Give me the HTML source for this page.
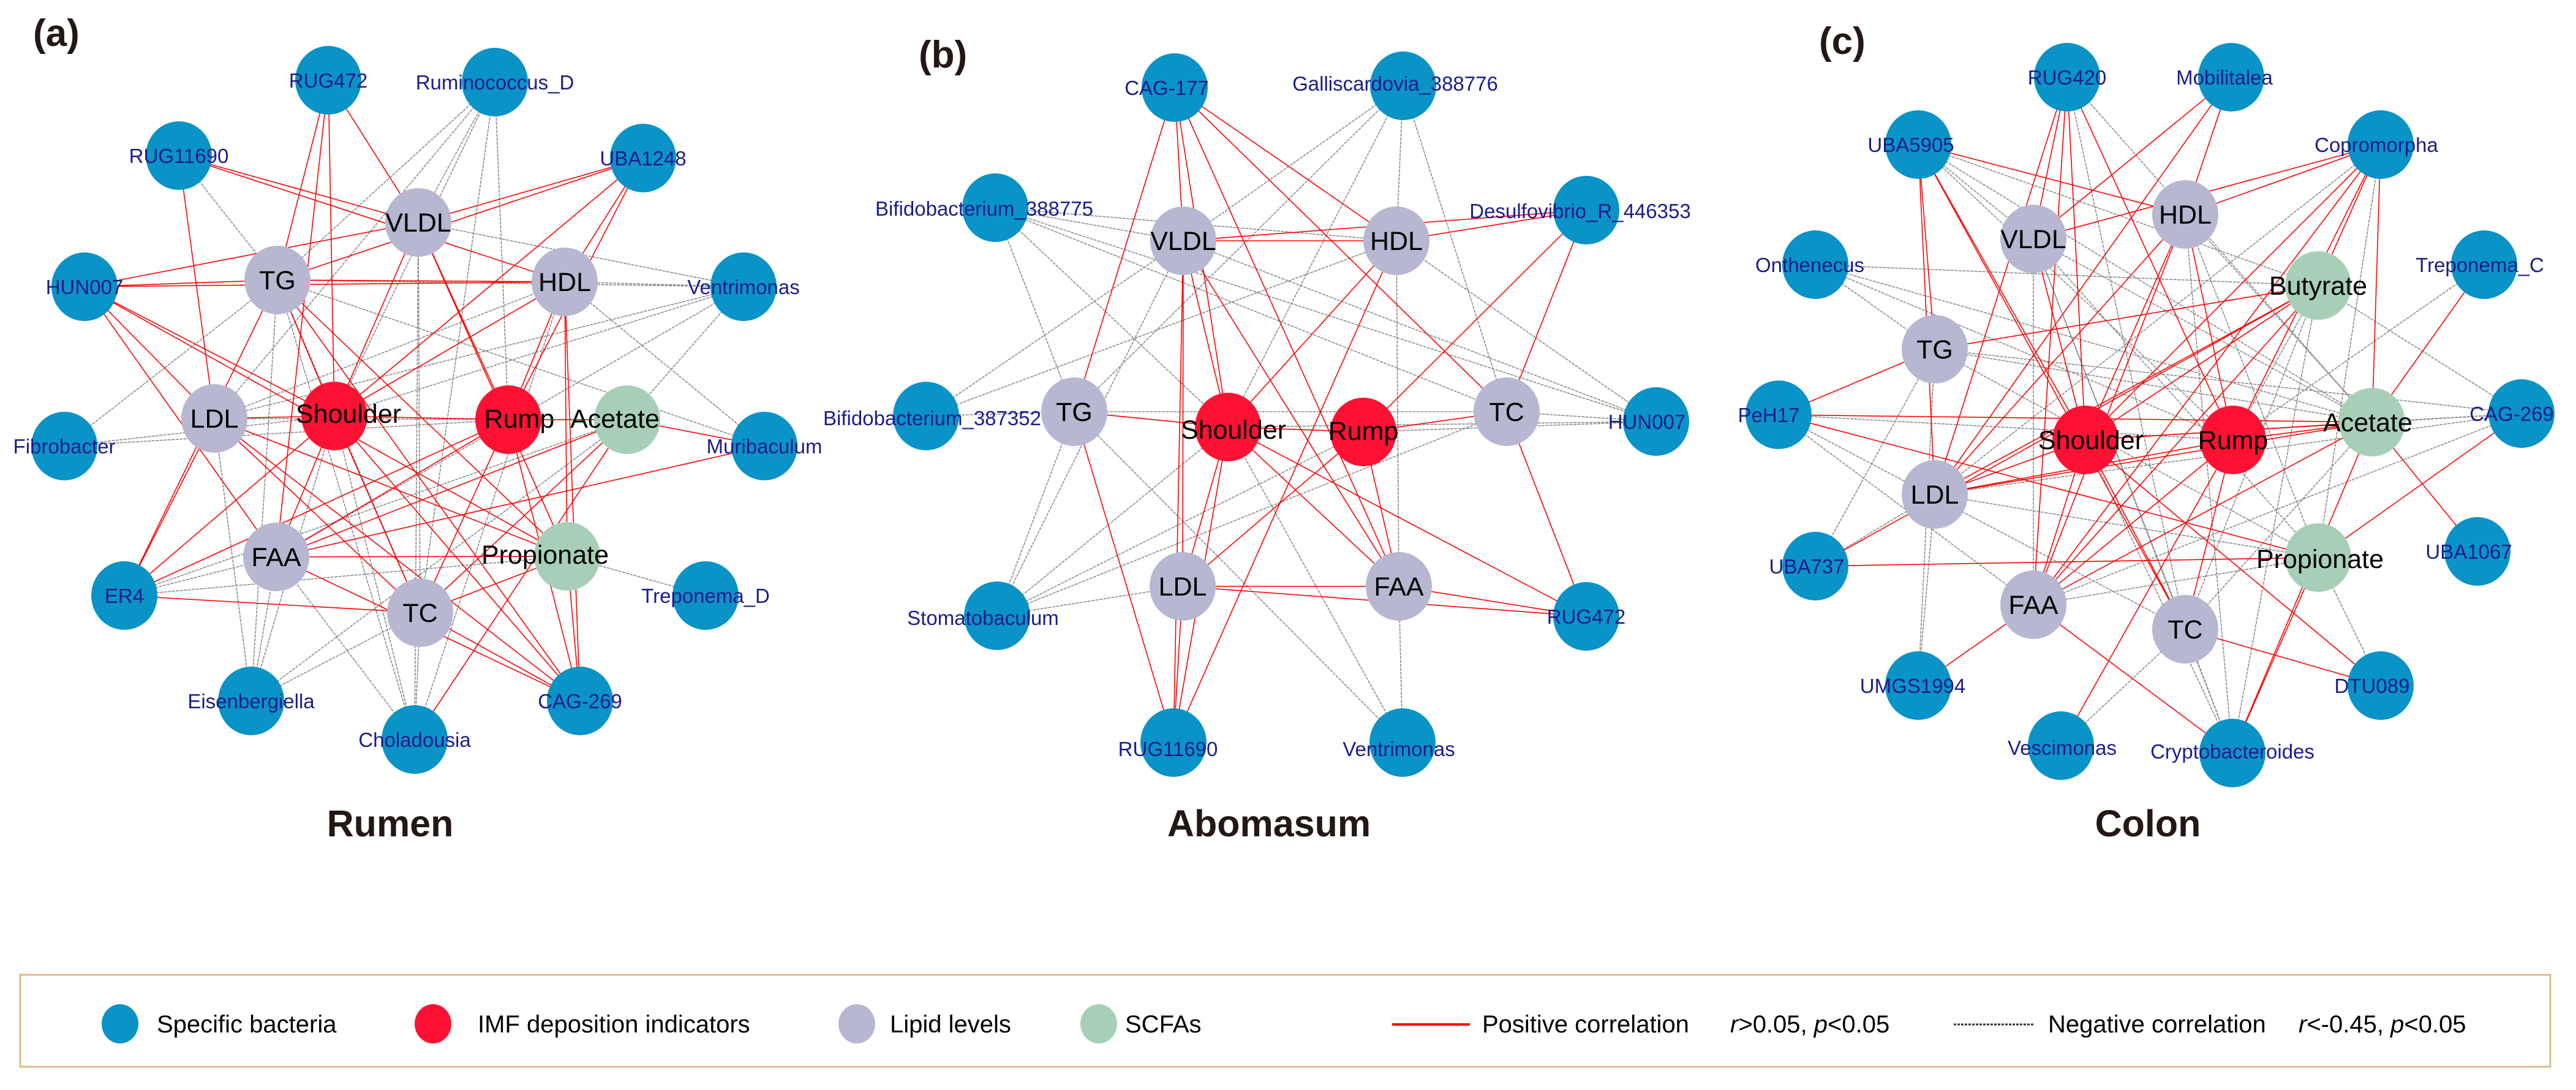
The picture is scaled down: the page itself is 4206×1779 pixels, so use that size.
<!DOCTYPE html>
<html><head><meta charset="utf-8"><style>
html,body{margin:0;padding:0;background:#fff;}
svg{display:block;}
</style></head><body>
<svg id="s" width="4206" height="1779" viewBox="0 0 4206 1779" xmlns="http://www.w3.org/2000/svg" font-family="Liberation Sans, Arial, sans-serif">
<g id="edges"></g><g id="nodes"></g>
<g font-weight="bold" fill="#231815">
<text x="54" y="75" font-size="62">(a)</text>
<text x="1500" y="110" font-size="62">(b)</text>
<text x="2970" y="88" font-size="62">(c)</text>
<text x="637" y="1365" font-size="61" text-anchor="middle">Rumen</text>
<text x="2072" y="1365" font-size="61" text-anchor="middle">Abomasum</text>
<text x="3507" y="1365" font-size="61" text-anchor="middle">Colon</text>
</g>
<rect x="33" y="1591" width="4131" height="150" fill="#fff" stroke="#e0b98a" stroke-width="3"/>
<g font-size="40" fill="#000">
<ellipse cx="196" cy="1671" rx="30" ry="32" fill="#0a93c6"/><text x="256" y="1685">Specific bacteria</text>
<ellipse cx="707" cy="1671" rx="30" ry="32" fill="#ff1133"/><text x="780" y="1685">IMF deposition indicators</text>
<ellipse cx="1399" cy="1671" rx="30" ry="32" fill="#b7b7d1"/><text x="1453" y="1685">Lipid levels</text>
<ellipse cx="1794" cy="1671" rx="30" ry="32" fill="#a7cfb8"/><text x="1837" y="1685">SCFAs</text>
<line x1="2273" y1="1672" x2="2400" y2="1672" stroke="#f00" stroke-width="4"/>
<text x="2420" y="1685">Positive correlation</text><text x="2825" y="1685"><tspan font-style="italic">r</tspan>&gt;0.05, <tspan font-style="italic">p</tspan>&lt;0.05</text>
<line x1="3190" y1="1672" x2="3320" y2="1672" stroke="#333" stroke-width="3" stroke-dasharray="4,2"/>
<text x="3344" y="1685">Negative correlation</text><text x="3753" y="1685"><tspan font-style="italic">r</tspan>&lt;-0.45, <tspan font-style="italic">p</tspan>&lt;0.05</text>
</g>
</svg>
<script>
const B="#0a93c6",R="#ff1133",L="#b7b7d1",G="#a7cfb8";
const panels=[
{n:{
RUG472:[536,131,B],Ruminococcus_D:[808,134,B],RUG11690:[292,254,B],UBA1248:[1050,258,B],HUN007:[138,468,B],Ventrimonas:[1214,468,B],Fibrobacter:[105,728,B],Muribaculum:[1248,728,B],ER4:[203,972,B],Treponema_D:[1152,972,B],Eisenbergiella:[410,1144,B],"CAG-269":[947,1144,B],Choladousia:[677,1207,B],
VLDL:[683,363,L],TG:[453,457,L],HDL:[922,460,L],LDL:[350,683,L],FAA:[451,909,L],TC:[686,1000,L],
Shoulder:[546,679,R],Rump:[830,685,R],Acetate:[1024,685,G],Propionate:[926,908,G]},
lab:{Ruminococcus_D:[808,134],Ventrimonas:[1214,468],Treponema_D:[1152,972],Eisenbergiella:[410,1144],Choladousia:[677,1207],Fibrobacter:[105,728],Muribaculum:[1248,728],"Shoulder":[569,675],"Rump":[848,683],"Acetate":[1004,683],"Propionate":[890,905]},
r:"RUG472-VLDL RUG472-TG RUG472-Shoulder RUG472-FAA RUG11690-VLDL RUG11690-HDL RUG11690-LDL UBA1248-VLDL UBA1248-TG UBA1248-HDL UBA1248-Shoulder UBA1248-Rump HUN007-VLDL HUN007-TG HUN007-HDL HUN007-LDL HUN007-Shoulder HUN007-Propionate HUN007-FAA Muribaculum-Acetate Muribaculum-FAA ER4-LDL ER4-TG ER4-Shoulder ER4-Rump ER4-TC CAG-269-Shoulder CAG-269-Rump CAG-269-TG CAG-269-FAA CAG-269-TC CAG-269-HDL CAG-269-Propionate CAG-269-LDL Choladousia-Acetate Shoulder-Rump Rump-Acetate FAA-Propionate TG-HDL VLDL-Rump VLDL-Shoulder TG-Shoulder LDL-Shoulder FAA-Shoulder TC-Shoulder TC-Rump HDL-Rump HDL-Shoulder LDL-Propionate TG-Propionate FAA-Rump FAA-Acetate TC-Acetate TC-Propionate VLDL-Propionate HDL-Propionate LDL-TC",
g:"Ruminococcus_D-TG Ruminococcus_D-VLDL Ruminococcus_D-LDL Ruminococcus_D-Rump Ruminococcus_D-TC Ruminococcus_D-Shoulder RUG11690-TG Ventrimonas-VLDL Ventrimonas-TG Ventrimonas-HDL Ventrimonas-LDL Ventrimonas-FAA Ventrimonas-Shoulder Ventrimonas-Acetate Fibrobacter-TG Fibrobacter-Shoulder Fibrobacter-Rump Muribaculum-TG Muribaculum-HDL ER4-FAA ER4-Acetate ER4-Propionate Treponema_D-Propionate Eisenbergiella-LDL Eisenbergiella-TG Eisenbergiella-FAA Eisenbergiella-Shoulder Eisenbergiella-TC Eisenbergiella-Acetate Choladousia-VLDL Choladousia-TC Choladousia-Shoulder Choladousia-FAA Choladousia-TG Choladousia-HDL VLDL-TC LDL-Acetate TG-TC LDL-HDL"},
{n:{
"CAG-177":[1918,143,B],Galliscardovia_388776:[2291,140,B],Bifidobacterium_388775:[1625,339,B],Desulfovibrio_R_446353:[2590,343,B],Bifidobacterium_387352:[1512,679,B],HUN007:[2704,688,B],Stomatobaculum:[1628,1005,B],RUG472:[2590,1006,B],RUG11690:[1916,1212,B],Ventrimonas:[2290,1212,B],
VLDL:[1932,393,L],HDL:[2280,393,L],TG:[1754,672,L],TC:[2460,672,L],LDL:[1931,957,L],FAA:[2284,957,L],
Shoulder:[2005,697,R],Rump:[2226,705,R]},
lab:{"CAG-177":[1905,143],Galliscardovia_388776:[2278,136],Bifidobacterium_388775:[1607,340],Desulfovibrio_R_446353:[2580,344],Bifidobacterium_387352:[1522,682],HUN007:[2689,688],Stomatobaculum:[1605,1008],RUG11690:[1907,1222],Ventrimonas:[2284,1222],Shoulder:[2014,701],Rump:[2226,703]},
r:"CAG-177-VLDL CAG-177-TG CAG-177-Shoulder CAG-177-HDL CAG-177-TC CAG-177-FAA Desulfovibrio_R_446353-HDL Desulfovibrio_R_446353-VLDL Desulfovibrio_R_446353-Rump Desulfovibrio_R_446353-TC RUG472-FAA RUG472-LDL RUG472-Shoulder RUG472-TC RUG11690-TG RUG11690-LDL RUG11690-Shoulder RUG11690-HDL RUG11690-VLDL TG-Shoulder Shoulder-Rump Rump-TC VLDL-LDL VLDL-Shoulder VLDL-HDL VLDL-FAA HDL-Shoulder Rump-FAA Shoulder-LDL Rump-LDL LDL-FAA Shoulder-FAA",
g:"Galliscardovia_388776-VLDL Galliscardovia_388776-HDL Galliscardovia_388776-TC Galliscardovia_388776-TG Galliscardovia_388776-Shoulder Bifidobacterium_388775-HDL Bifidobacterium_388775-VLDL Bifidobacterium_388775-TG Bifidobacterium_388775-TC Bifidobacterium_388775-HUN007 Bifidobacterium_388775-Shoulder Bifidobacterium_387352-VLDL Bifidobacterium_387352-HDL Bifidobacterium_387352-TG HUN007-TC HUN007-Rump HUN007-VLDL HUN007-HDL HUN007-Shoulder Stomatobaculum-TG Stomatobaculum-LDL Stomatobaculum-Shoulder Stomatobaculum-Rump Stomatobaculum-TC Stomatobaculum-VLDL Ventrimonas-FAA Ventrimonas-TG Ventrimonas-Shoulder TG-TC HDL-FAA"},
{n:{
RUG420:[3375,126,B],Mobilitalea:[3643,126,B],UBA5905:[3132,236,B],Copromorpha:[3887,236,B],Onthenecus:[2964,432,B],Treponema_C:[4056,432,B],PeH17:[2904,677,B],"CAG-269":[4117,675,B],UBA737:[2964,924,B],UBA1067:[4045,900,B],UMGS1994:[3132,1119,B],DTU089:[3887,1119,B],Vescimonas:[3365,1217,B],Cryptobacteroides:[3645,1229,B],
HDL:[3568,350,L],VLDL:[3320,390,L],TG:[3159,570,L],LDL:[3159,807,L],FAA:[3320,987,L],TC:[3568,1027,L],
Shoulder:[3405,718,R],Rump:[3646,718,R],Butyrate:[3785,466,G],Acetate:[3873,689,G],Propionate:[3785,910,G]},
lab:{Mobilitalea:[3632,126],UBA5905:[3120,236],Copromorpha:[3880,236],Onthenecus:[2955,432],Treponema_C:[4049,432],PeH17:[2888,677],"CAG-269":[4101,675],UBA737:[2950,924],UBA1067:[4031,900],UMGS1994:[3123,1119],DTU089:[3873,1119],Vescimonas:[3367,1220],Cryptobacteroides:[3645,1226],Shoulder:[3414,718],Rump:[3646,718],Acetate:[3866,689],Propionate:[3788,912]},
r:"RUG420-VLDL RUG420-Shoulder RUG420-Rump RUG420-FAA RUG420-LDL Mobilitalea-VLDL Mobilitalea-HDL Mobilitalea-LDL UBA5905-TG UBA5905-LDL UBA5905-Shoulder UBA5905-HDL UBA5905-TC Copromorpha-HDL Copromorpha-VLDL Copromorpha-Shoulder Copromorpha-Rump Copromorpha-Butyrate Copromorpha-Acetate Copromorpha-FAA Treponema_C-Acetate PeH17-TG PeH17-Acetate PeH17-Propionate CAG-269-Propionate UBA737-Butyrate UBA737-Propionate UBA1067-Acetate UMGS1994-FAA DTU089-TC DTU089-Shoulder Vescimonas-Rump Cryptobacteroides-Acetate Cryptobacteroides-Propionate Cryptobacteroides-FAA Shoulder-HDL Shoulder-VLDL Shoulder-LDL Shoulder-TC Shoulder-FAA Shoulder-Butyrate Shoulder-Acetate Rump-LDL Rump-FAA Rump-HDL Rump-TC Rump-Acetate TG-Butyrate LDL-Acetate LDL-Butyrate FAA-Acetate FAA-Butyrate HDL-LDL HDL-FAA",
g:"RUG420-Acetate RUG420-TC UBA5905-VLDL UBA5905-Butyrate UBA5905-Acetate UBA5905-Rump Copromorpha-Propionate Copromorpha-LDL Onthenecus-Butyrate Onthenecus-Acetate Onthenecus-TG Onthenecus-Rump Treponema_C-Rump PeH17-Rump PeH17-FAA PeH17-TC CAG-269-Butyrate CAG-269-Acetate CAG-269-Shoulder CAG-269-LDL CAG-269-FAA CAG-269-TG UBA737-LDL UBA737-TG UMGS1994-LDL UMGS1994-TG DTU089-Propionate Vescimonas-TC Cryptobacteroides-HDL Cryptobacteroides-TC Cryptobacteroides-Shoulder Cryptobacteroides-Butyrate Cryptobacteroides-VLDL Rump-Butyrate TG-Acetate TG-Propionate LDL-Propionate FAA-Propionate TC-Butyrate TC-Acetate HDL-Acetate HDL-Propionate VLDL-Propionate VLDL-Acetate VLDL-TC VLDL-FAA"}
];
const NS="http://www.w3.org/2000/svg";
const E=document.getElementById("edges"),N=document.getElementById("nodes");
function mk(t,a,p){const e=document.createElementNS(NS,t);for(const k in a)e.setAttribute(k,a[k]);p.appendChild(e);return e;}
function split(s,names){const out=[];for(const tok of s.split(" ")){if(!tok)continue;
 for(let k=1;k<tok.length;k++){if(tok[k]==="-"){const a=tok.slice(0,k),b=tok.slice(k+1);if(names[a]&&names[b]){out.push([a,b]);break;}}}}
 return out;}
for(const p of panels){
 for(const [c,col,w,da] of [["g","#8a8a8a",1.6,"5,1.5"],["r","#ff0000",1.6,null]]){
  for(const [a,b] of split(p[c],p.n)){const A=p.n[a],Bn=p.n[b];
   const at={x1:A[0],y1:A[1],x2:Bn[0],y2:Bn[1],stroke:col,"stroke-width":w};if(da)at["stroke-dasharray"]=da;mk("line",at,E);}
 }
 for(const k in p.n){const v=p.n[k];mk("ellipse",{cx:v[0],cy:v[1],rx:54,ry:56,fill:v[2]},N);}
 for(const k in p.n){const v=p.n[k];const l=p.lab[k]||[v[0],v[1]];
  const isB=v[2]===B;const t=mk("text",{x:l[0],y:l[1]+(isB?12:15),"text-anchor":"middle","font-size":isB?33:43,fill:isB?"#1c1c8c":"#000"},N);t.textContent=k;}
}
</script>
</body></html>
